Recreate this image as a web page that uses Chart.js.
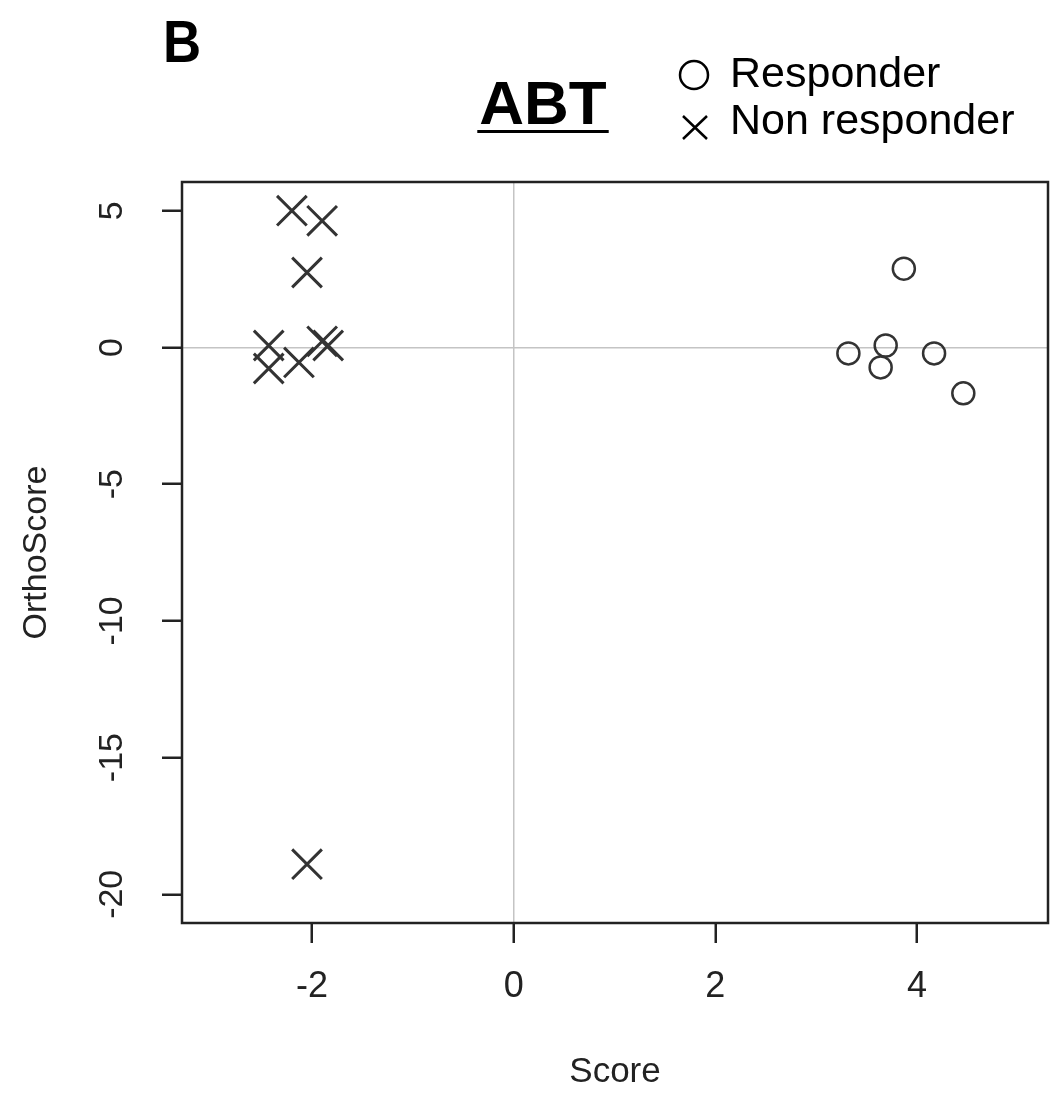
<!DOCTYPE html>
<html>
<head>
<meta charset="utf-8">
<script src="https://cdn.jsdelivr.net/npm/chart.js@4.4.1/dist/chart.umd.min.js"></script>
<style>
  html, body { margin: 0; padding: 0; background: #fff; overflow: hidden; }
  canvas { display: block; }
</style>
</head>
<body>
<canvas id="scoreChart" width="1050" height="1093"></canvas>
<script>
// values
var responderScore = [3.87, 3.32, 3.69, 3.64, 4.17, 4.46];
var responderOrtho = [2.88, -0.22, 0.07, -0.73, -0.22, -1.68];
var nonResponderScore = [-2.20, -1.90, -2.05, -2.43, -2.43, -2.13, -1.90, -1.84, -2.05];
var nonResponderOrtho = [5.00, 4.63, 2.74, 0.07, -0.77, -0.55, 0.22, 0.07, -18.9];
var xTicks = [-2, 0, 2, 4];
var yTicks = [-20, -15, -10, -5, 0, 5];
var seriesNames = ['Responder', 'Non responder'];

var FONT = '"Liberation Sans", Arial, sans-serif';
var INK = '#222';

function toPoints(xs, ys) {
    var out = [];
    for (var i = 0; i < xs.length; i++) out.push({ x: xs[i], y: ys[i] });
    return out;
}

var decorations = {
    id: 'decorations',
    afterDraw: function (chart) {
        var ctx = chart.ctx;
        var area = chart.chartArea;
        var yScale = chart.scales.y;

        ctx.save();
        // plot box
        ctx.strokeStyle = INK;
        ctx.lineWidth = 2.5;
        ctx.strokeRect(area.left, area.top, area.right - area.left, area.bottom - area.top);

        // y tick labels, rotated like R
        ctx.fillStyle = INK;
        ctx.font = '34px ' + FONT;
        ctx.textAlign = 'center';
        ctx.textBaseline = 'middle';
        yTicks.forEach(function (v) {
            var py = yScale.getPixelForValue(v);
            ctx.save();
            ctx.translate(113, py);
            ctx.rotate(-Math.PI / 2);
            ctx.fillText(String(v), 0, 0);
            ctx.restore();
        });

        // panel letter
        ctx.fillStyle = '#000';
        ctx.textBaseline = 'alphabetic';
        ctx.save();
        ctx.translate(163, 62);
        ctx.scale(0.88, 1);
        ctx.font = 'bold 60px ' + FONT;
        ctx.textAlign = 'left';
        ctx.fillText('B', 0, 0);
        ctx.restore();

        // title with underline
        ctx.font = 'bold 62px ' + FONT;
        ctx.textAlign = 'center';
        ctx.fillText('ABT', 543, 124);
        var w = ctx.measureText('ABT').width;
        ctx.fillRect(543 - w / 2 - 2, 130, w + 4, 3);

        // legend
        ctx.font = '43px ' + FONT;
        ctx.textAlign = 'left';
        ctx.fillText(seriesNames[0], 730, 87);
        ctx.fillText(seriesNames[1], 730, 134);
        ctx.strokeStyle = '#000';
        ctx.lineWidth = 2.5;
        ctx.beginPath();
        ctx.arc(694, 75, 14, 0, Math.PI * 2);
        ctx.stroke();
        ctx.beginPath();
        ctx.moveTo(683, 116); ctx.lineTo(707, 139);
        ctx.moveTo(707, 116); ctx.lineTo(683, 139);
        ctx.stroke();
        ctx.restore();
    }
};

var ctx = document.getElementById('scoreChart').getContext('2d');

var chart = new Chart(ctx, {
    type: 'scatter',
    data: {
        datasets: [{
            label: seriesNames[0],
            data: toPoints(responderScore, responderOrtho),
            pointStyle: 'circle',
            pointRadius: 11,
            pointBorderWidth: 2.5,
            pointBorderColor: '#333',
            pointBackgroundColor: 'rgba(0,0,0,0)'
        }, {
            label: seriesNames[1],
            data: toPoints(nonResponderScore, nonResponderOrtho),
            pointStyle: 'crossRot',
            pointRadius: 21,
            pointBorderWidth: 3,
            pointBorderColor: '#333',
            pointBackgroundColor: 'rgba(0,0,0,0)'
        }]
    },
    options: {
        responsive: false,
        animation: false,
        events: [],
        // big point radius would otherwise add padding around the plot
        layout: { autoPadding: false, padding: { top: 182, right: 2, left: 0, bottom: 0 } },
        plugins: {
            legend: { display: false },
            tooltip: { enabled: false },
            title: { display: false }
        },
        scales: {
            x: {
                type: 'linear',
                min: -3.29,
                max: 5.30,
                afterBuildTicks: function (scale) {
                    scale.ticks = xTicks.map(function (v) { return { value: v }; });
                },
                afterFit: function (scale) {
                    scale.height = 170;
                    scale.paddingLeft = 0;
                    scale.paddingRight = 0;
                },
                border: { display: false },
                grid: {
                    color: function (c) { return c.tick && c.tick.value === 0 ? '#c4c4c4' : 'rgba(0,0,0,0)'; },
                    lineWidth: 1.5,
                    tickColor: INK,
                    tickWidth: 2.5,
                    tickLength: 20
                },
                ticks: {
                    color: INK,
                    font: { family: FONT, size: 36 },
                    padding: 22,
                    maxRotation: 0,
                    minRotation: 0
                },
                title: {
                    display: true,
                    text: 'Score',
                    color: INK,
                    font: { family: FONT, size: 35 },
                    padding: { top: 0, bottom: 0 }
                }
            },
            y: {
                type: 'linear',
                min: -21.05,
                max: 6.05,
                afterBuildTicks: function (scale) {
                    scale.ticks = yTicks.map(function (v) { return { value: v }; });
                },
                afterFit: function (scale) {
                    scale.width = 182;
                },
                border: { display: false },
                grid: {
                    color: function (c) { return c.tick && c.tick.value === 0 ? '#c4c4c4' : 'rgba(0,0,0,0)'; },
                    lineWidth: 1.5,
                    tickColor: INK,
                    tickWidth: 2.5,
                    tickLength: 20
                },
                ticks: { display: false },
                title: {
                    display: true,
                    text: 'OrthoScore',
                    color: INK,
                    font: { family: FONT, size: 34 },
                    padding: { top: 16, bottom: 0 }
                }
            }
        }
    },
    plugins: [decorations]
});
</script>
</body>
</html>
